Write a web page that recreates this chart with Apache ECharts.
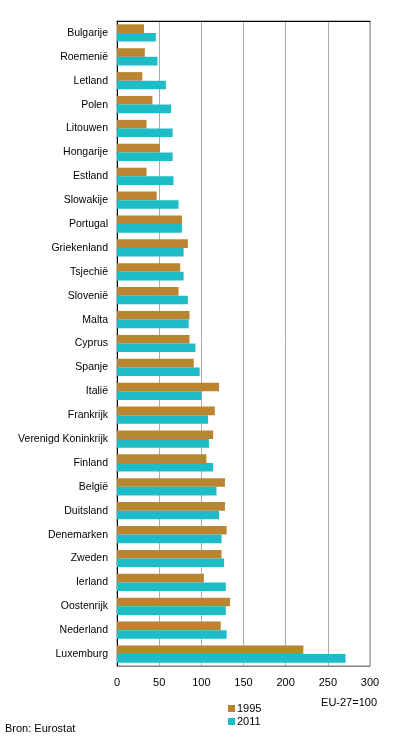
<!DOCTYPE html>
<html>
<head>
<meta charset="utf-8">
<script src="https://cdn.jsdelivr.net/npm/echarts@6/dist/echarts.min.js"></script>
<style>
html,body{margin:0;padding:0;background:#fff;}
#chart{width:396px;height:744px;}
</style>
</head>
<body>
<div id="chart"></div>
<script>
// landen, van boven naar beneden
var countries = ['Bulgarije','Roemenië','Letland','Polen','Litouwen','Hongarije','Estland','Slowakije','Portugal','Griekenland','Tsjechië','Slovenië','Malta','Cyprus','Spanje','Italië','Frankrijk','Verenigd Koninkrijk','Finland','België','Duitsland','Denemarken','Zweden','Ierland','Oostenrijk','Nederland','Luxemburg'];
var values1995 = [32,33,30,42,35,51,35,47,77,84,75,73,86,86,91,121,116,114,106,128,128,130,124,103,134,123,221];
var values2011 = [46,48,58,64,66,66,67,73,77,79,79,84,85,93,98,100,108,109,114,118,121,124,127,129,129,130,271];
var xTicks = [0,50,100,150,200,250,300];

var font = '"Liberation Sans", Arial, sans-serif';
var chart = echarts.init(document.getElementById('chart'));
var options = {
    animation:false,
    textStyle:{fontFamily:font},
    grid:{
        left:117, right:26, top:21, bottom:78,
        show:true, borderColor:'#808080', borderWidth:1
    },
    legend:{
        orient:'vertical',
        left:228, top:703, padding:0,
        itemWidth:7, itemHeight:7, itemGap:2,
        icon:'rect',
        textStyle:{fontSize:11, color:'#000', fontFamily:font, padding:[0,0,0,-3]},
        data:['1995','2011']
    },
    xAxis:[{
        type:'value',
        min:xTicks[0], max:xTicks[xTicks.length-1], interval:50,
        axisLine:{show:true, lineStyle:{color:'#808080'}},
        axisTick:{show:false},
        axisLabel:{fontSize:11, color:'#000', margin:11, fontFamily:font},
        splitLine:{show:true, lineStyle:{color:'#ababab', width:1}}
    },{
        type:'value', position:'top',
        min:xTicks[0], max:xTicks[xTicks.length-1], interval:50,
        axisLine:{show:true, lineStyle:{color:'#000'}},
        axisTick:{show:false}, axisLabel:{show:false}, splitLine:{show:false}
    }],
    yAxis:{
        type:'category',
        inverse:true,
        data:countries,
        axisLine:{show:true, lineStyle:{color:'#000'}},
        axisTick:{show:false},
        axisLabel:{fontSize:10.5, color:'#000', margin:9, fontFamily:font}
    },
    series:[
        {
            name:'1995', type:'bar', data:values1995,
            barGap:0, barCategoryGap:'28%',
            itemStyle:{color:'#BA8431'}
        },
        {
            name:'2011', type:'bar', data:values2011,
            barGap:0, barCategoryGap:'28%',
            itemStyle:{color:'#1EBCC6'}
        }
    ],
    graphic:[
        {type:'text', right:19, top:697, style:{text:'EU-27=100', font:'11px '+font, fill:'#000'}},
        {type:'text', left:5, top:723, style:{text:'Bron: Eurostat', font:'11px '+font, fill:'#000'}}
    ]
};
chart.setOption(options);
</script>
</body>
</html>
